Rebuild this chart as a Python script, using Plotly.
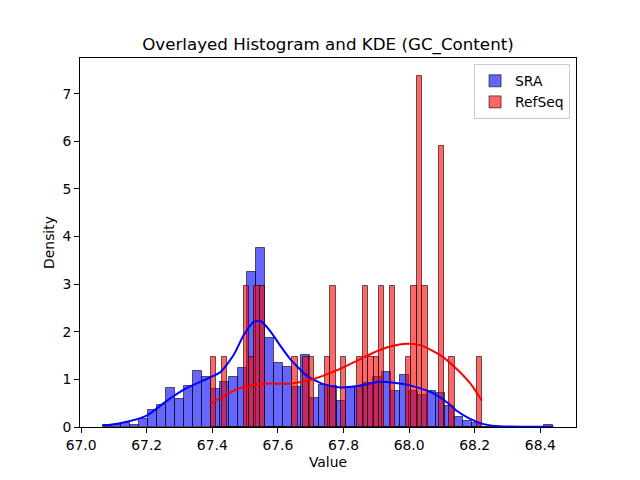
import plotly.graph_objects as go

# ---------------- data ----------------
sra_min, sra_max = 67.0654, 68.4401
refseq_min, refseq_max = 67.396, 68.222
n_bins = 50

sra_density = [0.04, 0.04, 0.08, 0.04, 0.16, 0.36, 0.46, 0.81, 0.58, 0.86,
               1.17, 1.05, 0.79, 0.94, 1.04, 1.23, 3.25, 3.75, 1.86, 1.34,
               1.25, 0.83, 1.51, 0.60, 0.89, 0.87, 0.54, 0.85, 0.83, 0.92,
               1.04, 1.15, 0.76, 1.09, 0.75, 0.68, 0.76, 0.71, 0.45, 0.20,
               0.12, 0.08, 0.0, 0.0, 0.0, 0.0, 0.0, 0.0, 0.0, 0.04]

refseq_density = [1.476, 0, 1.476, 0, 0, 0, 2.952, 1.476, 2.952, 2.952,
                  0, 0, 0, 0, 0, 1.476, 0, 1.476, 1.476, 0,
                  0, 1.476, 2.952, 0, 1.476, 0, 0, 1.476, 2.952, 1.476,
                  1.476, 2.952, 0, 2.952, 0, 0, 1.476, 2.952, 7.38, 2.952,
                  0, 0, 5.904, 0, 1.476, 0, 0, 0, 0, 1.476]

sra_kde_x = [67.0654, 67.119, 67.200, 67.261, 67.317, 67.370, 67.424,
             67.464, 67.495, 67.525, 67.546, 67.576, 67.607, 67.637, 67.688,
             67.739, 67.790, 67.841, 67.912, 67.993, 68.064, 68.115,
             68.145, 68.186, 68.227, 68.277, 68.35, 68.4401]
sra_kde_y = [0.03, 0.08, 0.24, 0.55, 0.80, 0.97, 1.15,
             1.50, 1.92, 2.20, 2.23, 2.02, 1.71, 1.43, 1.08,
             0.90, 0.83, 0.86, 0.95, 0.89, 0.74, 0.52,
             0.34, 0.17, 0.06, 0.015, 0.005, 0.004]

refseq_kde_x = [67.396, 67.430, 67.464, 67.515, 67.566, 67.637, 67.688, 67.739,
                67.790, 67.841, 67.891, 67.942, 67.993, 68.034, 68.095, 68.145,
                68.186, 68.222]
refseq_kde_y = [0.50, 0.63, 0.76, 0.87, 0.91, 0.91, 0.97, 1.08,
                1.22, 1.39, 1.56, 1.69, 1.75, 1.72, 1.51, 1.22,
                0.92, 0.55]

x_ticks = [67.0, 67.2, 67.4, 67.6, 67.8, 68.0, 68.2, 68.4]
x_tick_labels = ["67.0", "67.2", "67.4", "67.6", "67.8", "68.0", "68.2", "68.4"]
y_ticks = [0, 1, 2, 3, 4, 5, 6, 7]

# ---------------- figure ----------------
sra_w = (sra_max - sra_min) / n_bins
ref_w = (refseq_max - refseq_min) / n_bins
sra_centers = [sra_min + (i + 0.5) * sra_w for i in range(n_bins)]
ref_centers = [refseq_min + (i + 0.5) * ref_w for i in range(n_bins)]

edge = "rgba(0,0,0,0.6)"
fig = go.Figure()
fig.add_trace(go.Bar(x=sra_centers, y=sra_density, width=sra_w, name="SRA",
                     marker=dict(color="rgba(0,0,255,0.6)", line=dict(color=edge, width=1))))
fig.add_trace(go.Bar(x=ref_centers, y=refseq_density, width=ref_w, name="RefSeq",
                     marker=dict(color="rgba(255,0,0,0.6)", line=dict(color=edge, width=1))))
fig.add_trace(go.Scatter(x=sra_kde_x, y=sra_kde_y, mode="lines", showlegend=False,
                         line=dict(color="blue", width=2, shape="spline", smoothing=0.6)))
fig.add_trace(go.Scatter(x=refseq_kde_x, y=refseq_kde_y, mode="lines", showlegend=False,
                         line=dict(color="red", width=2, shape="spline", smoothing=0.6)))

axis_common = dict(showline=True, linecolor="black", linewidth=1, mirror=True,
                   ticks="outside", ticklen=5, tickwidth=1, tickcolor="black",
                   showgrid=False, zeroline=False,
                   tickfont=dict(family="DejaVu Sans", size=13.9, color="black"))

fig.update_layout(
    width=640, height=480,
    margin=dict(l=80, r=64, t=58, b=53),
    paper_bgcolor="white", plot_bgcolor="white",
    barmode="overlay", bargap=0,
    font=dict(family="DejaVu Sans", color="black"),
    title=dict(text="Overlayed Histogram and KDE (GC_Content)",
               font=dict(family="DejaVu Sans", size=16.7, color="black"),
               x=0.5, xanchor="center", xref="paper",
               y=1 - 44 / 480, yref="container", yanchor="middle"),
    xaxis=dict(range=[66.9966, 68.5088], tickvals=x_ticks, ticktext=x_tick_labels,
               title=dict(text="Value", font=dict(family="DejaVu Sans", size=13.9), standoff=5),
               **axis_common),
    yaxis=dict(range=[0, 7.75], tickvals=y_ticks,
               title=dict(text="Density", font=dict(family="DejaVu Sans", size=13.9), standoff=4),
               **axis_common),
    legend=dict(x=0.988, y=0.983, xanchor="right", yanchor="top",
                bgcolor="rgba(255,255,255,0.8)", bordercolor="#cccccc", borderwidth=1,
                font=dict(family="DejaVu Sans", size=13.9, color="black")),
)

fig.write_html("out.html")
